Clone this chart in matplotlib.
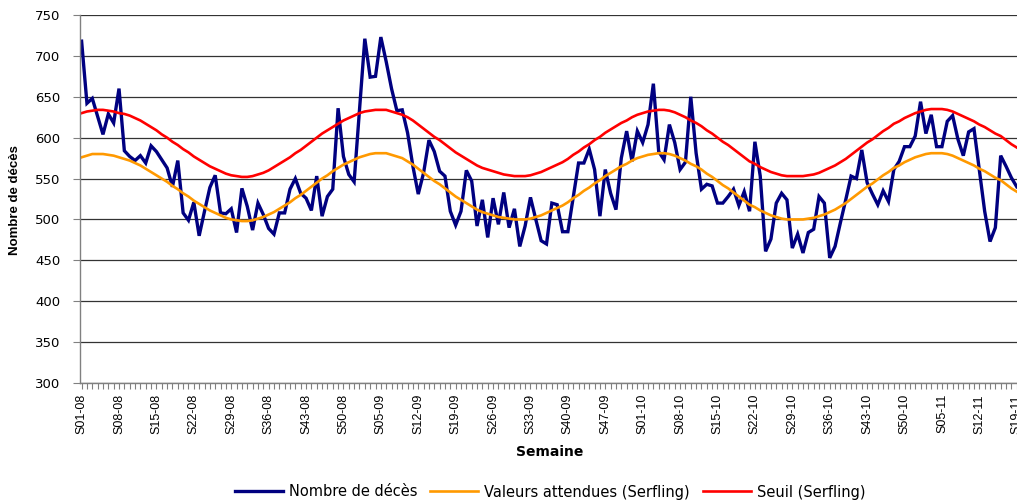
import matplotlib
matplotlib.use("Agg")
import matplotlib.pyplot as plt

# week categories S01-08 .. S19-11 (2009 has 53 ISO weeks)
YEARS = ["08", "09", "10", "11"]
WEEKS_PER_YEAR = [52, 53, 52, 19]
weeks = [f"S{w:02d}-{y}" for y, n in zip(YEARS, WEEKS_PER_YEAR) for w in range(1, n + 1)]

deces = [
    718, 642, 648, 626, 604, 629, 618, 660, 584, 577,
    572, 578, 569, 590, 583, 573, 563, 540, 572, 508,
    499, 521, 480, 510, 539, 554, 508, 507, 513, 484,
    538, 516, 487, 520, 506, 489, 482, 508, 508, 537,
    550, 532, 526, 511, 553, 504, 528, 537, 636, 577,
    555, 546, 633, 721, 674, 675, 723, 693, 660, 633,
    634, 606, 565, 531, 557, 597, 583, 559, 553, 510,
    493, 510, 560, 547, 492, 524, 478, 526, 494, 533,
    490, 513, 467, 492, 527, 500, 474, 470, 520, 518,
    485, 485, 527, 569, 569, 586, 561, 504, 561, 532,
    512, 575, 608, 571, 608, 594, 616, 666, 583, 573,
    616, 594, 561, 570, 650, 581, 537, 543, 541, 520,
    520, 528, 537, 517, 534, 510, 595, 553, 461, 476,
    520, 532, 524, 465, 482, 459, 484, 488, 528, 520,
    453, 467, 496, 524, 553, 550, 585, 545, 531, 518,
    535, 522, 561, 571, 589, 589, 602, 644, 605, 628,
    589, 589, 620, 627, 598, 578, 607, 611, 560, 510,
    473, 490, 578, 565, 551, 540,
]

attendues = [
    576, 578, 580, 580, 580, 579, 578, 576, 574, 572,
    569, 566, 562, 558, 554, 550, 546, 541, 537, 532,
    528, 523, 519, 515, 511, 508, 505, 502, 500, 499,
    498, 498, 499, 501, 503, 506, 509, 513, 517, 521,
    526, 530, 535, 540, 545, 550, 554, 559, 563, 567,
    570, 573, 576, 578, 580, 581, 581, 581, 579, 577,
    575, 571, 567, 562, 557, 552, 547, 543, 538, 533,
    528, 524, 520, 516, 512, 509, 507, 505, 503, 502,
    501, 500, 500, 500, 501, 503, 505, 508, 511, 514,
    517, 521, 526, 530, 535, 539, 544, 548, 553, 557,
    561, 565, 568, 572, 575, 577, 579, 580, 581, 581,
    580, 578, 575, 572, 568, 565, 561, 556, 552, 547,
    542, 538, 533, 528, 523, 518, 515, 511, 508, 505,
    503, 501, 500, 500, 500, 500, 501, 502, 504, 506,
    509, 512, 516, 520, 525, 530, 535, 540, 544, 549,
    554, 558, 563, 566, 570, 573, 576, 578, 580, 581,
    581, 581, 580, 578, 575, 572, 569, 566, 562, 559,
    555, 551, 548, 543, 538, 534,
]

seuil = [
    630, 632, 633, 634, 634, 633, 632, 630, 629, 627,
    624, 621, 617, 613, 609, 604, 600, 595, 591, 586,
    582, 577, 573, 569, 565, 562, 559, 556, 554, 553,
    552, 552, 553, 555, 557, 560, 564, 568, 572, 576,
    581, 585, 590, 595, 600, 605, 609, 613, 617, 621,
    624, 627, 630, 632, 633, 634, 634, 634, 632, 630,
    628, 625, 621, 616, 611, 606, 601, 597, 592, 587,
    582, 578, 574, 570, 566, 563, 561, 559, 557, 555,
    554, 553, 553, 553, 554, 556, 558, 561, 564, 567,
    570, 574, 579, 583, 588, 592, 597, 601, 606, 610,
    614, 618, 621, 625, 628, 630, 632, 633, 634, 634,
    633, 631, 628, 625, 621, 618, 614, 609, 605, 600,
    595, 591, 586, 581, 576, 571, 568, 564, 561, 558,
    556, 554, 553, 553, 553, 553, 554, 555, 557, 560,
    563, 566, 570, 574, 579, 584, 589, 594, 598, 603,
    608, 612, 617, 620, 624, 627, 630, 632, 634, 635,
    635, 635, 634, 632, 629, 626, 623, 620, 616, 613,
    609, 605, 602, 597, 592, 588,
]

W, H = 1017, 504
fig = plt.figure(figsize=(W / 100, H / 100), dpi=100)
ax = fig.add_axes([80 / W, 1 - 383 / H, 1 - 80 / W, (383 - 15) / H])

x = list(range(len(weeks)))
l1, = ax.plot(x, deces, color="#000080", lw=2.4, label="Nombre de décès", solid_joinstyle="miter")
l2, = ax.plot(x, attendues, color="#FF9900", lw=1.9, label="Valeurs attendues (Serfling)")
l3, = ax.plot(x, seuil, color="#FF0000", lw=1.9, label="Seuil (Serfling)")

ax.set_ylim(300, 750)
ax.set_yticks(range(300, 751, 50))
ax.set_xlim(-0.3, 175.05)
ax.set_xticks(x)
ax.set_xticklabels([w if i % 7 == 0 else "" for i, w in enumerate(weeks)],
                   rotation=90, fontsize=9, family="Liberation Sans")
ax.tick_params(axis="x", length=4, width=0.8, color="#808080", pad=4)
ax.tick_params(axis="y", length=5, width=0.8, color="#808080", pad=9, labelsize=9.5)
for t in ax.get_yticklabels():
    t.set_family("DejaVu Sans")

ax.grid(axis="y", color="#333333", lw=0.9)
ax.set_axisbelow(True)
for s in ("top", "right"):
    ax.spines[s].set_visible(False)
for s in ("left", "bottom"):
    ax.spines[s].set_color("#808080")
    ax.spines[s].set_linewidth(1.0)

fig.text(15 / W, 1 - 200 / H, "Nombre de décès", rotation=90, ha="center", va="center",
         fontsize=9.5, fontweight="bold", family="Liberation Sans")
fig.text(550 / W, 1 - 452 / H, "Semaine", ha="center", va="center",
         fontsize=10, fontweight="bold", family="DejaVu Sans")

fig.legend(handles=[l1, l2, l3], loc="center", bbox_to_anchor=(550 / W, 1 - 492 / H),
           ncol=3, frameon=False, fontsize=10.5, handlelength=3.3, handletextpad=0.4,
           columnspacing=0.9, borderaxespad=0)

fig.savefig("out.png", dpi=100)
